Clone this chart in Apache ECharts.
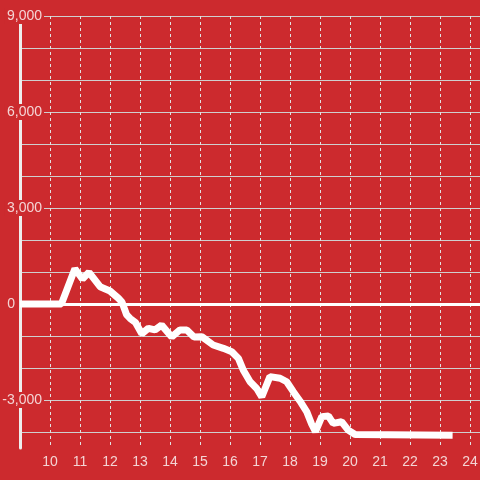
<!DOCTYPE html>
<html>
<head>
<meta charset="utf-8">
<script src="https://cdn.jsdelivr.net/npm/echarts@6/dist/echarts.min.js"></script>
<style>
html,body{margin:0;padding:0;background:#cc2a2e;}
#chart{width:480px;height:480px;}
</style>
</head>
<body>
<div id="chart"></div>
<script>
// time of day (decimal hours)
const times = [9, 10.38, 10.83, 11.08, 11.3, 11.67, 12.0, 12.28, 12.4, 12.55, 12.67, 12.85, 13.06, 13.28, 13.5, 13.72, 14.06, 14.33, 14.56, 14.8, 15.06, 15.44, 15.78, 16.06, 16.28, 16.44, 16.67, 16.89, 17.06, 17.33, 17.67, 17.89, 18.11, 18.33, 18.56, 18.72, 18.85, 19.06, 19.28, 19.44, 19.72, 19.94, 20.17, 23.42];
const values = [0, 0, 1100, 780, 990, 540, 406, 180, 60, -330, -450, -580, -930, -760, -810, -660, -1030, -810, -810, -1030, -1020, -1280, -1385, -1490, -1700, -2060, -2430, -2640, -2900, -2270, -2320, -2430, -2740, -3030, -3370, -3750, -3990, -3520, -3500, -3730, -3680, -3940, -4080, -4100];
const yLabelTicks = [9000, 6000, 3000, 0, -3000];
const xLabelTicks = [10, 11, 12, 13, 14, 15, 16, 17, 18, 19, 20, 21, 22, 23, 24];

const BG = '#cc2a2e';
const TXT = '#f4d4d4';
const data = times.map((t, i) => [t, values[i]]);

const chart = echarts.init(document.getElementById('chart'), null, {renderer: 'canvas'});
chart.setOption({
  backgroundColor: BG,
  animation: false,
  grid: [
    {left: 20, right: 0, top: 16, bottom: 32, containLabel: false, outerBoundsMode: 'none'},
    {left: 20, right: 0, top: 16, bottom: 48, containLabel: false, outerBoundsMode: 'none'}
  ],
  xAxis: [
    {
      gridIndex: 0, type: 'value', min: 9, max: 9 + 460 / 30, interval: 1,
      axisLine: {show: false}, axisTick: {show: false},
      splitLine: {show: true, lineStyle: {color: '#e2e2e2', width: 1, type: [3, 3]}},
      axisLabel: {
        color: TXT, fontSize: 14, fontFamily: 'Liberation Sans', margin: 7,
        showMaxLabel: false,
        formatter: v => xLabelTicks.indexOf(Math.round(v * 1000) / 1000) >= 0 ? String(v) : ''
      }
    },
    {gridIndex: 1, type: 'value', min: 0, max: 1, show: false}
  ],
  yAxis: [
    {
      gridIndex: 0, type: 'value', min: -4500, max: 9000, interval: 1500, z: 1,
      axisLine: {show: true, lineStyle: {color: '#eeeeee', width: 3}},
      axisTick: {show: false},
      splitLine: {show: false},
      axisLabel: {
        margin: -24,
        formatter: v => {
          if (yLabelTicks.indexOf(v) < 0) return '';
          if (v === 0) return '{z|0}';
          return '{a|' + echarts.format.addCommas(v) + '}';
        },
        rich: {
          a: {color: TXT, fontSize: 14, fontFamily: 'Liberation Sans', backgroundColor: BG, padding: [1, 2, 1, 2], lineHeight: 14},
          z: {color: TXT, fontSize: 14, fontFamily: 'Liberation Sans', padding: [1, 29, 1, 0], lineHeight: 14}
        }
      }
    },
    {
      gridIndex: 1, type: 'value', min: -4000, max: 9000, interval: 1000, z: 0,
      axisLine: {show: false}, axisTick: {show: false}, axisLabel: {show: false},
      splitLine: {show: true, lineStyle: {color: '#cfcfcf', width: 1}}
    }
  ],
  series: [{
    type: 'line',
    xAxisIndex: 0, yAxisIndex: 0,
    data: data,
    symbol: 'none',
    z: 3,
    lineStyle: {color: '#ffffff', width: 7},
    markLine: {
      silent: true, symbol: 'none', animation: false,
      label: {show: false},
      lineStyle: {color: '#ffffff', width: 3, type: 'solid'},
      data: [{yAxis: 0}]
    }
  }]
});
</script>
</body>
</html>
